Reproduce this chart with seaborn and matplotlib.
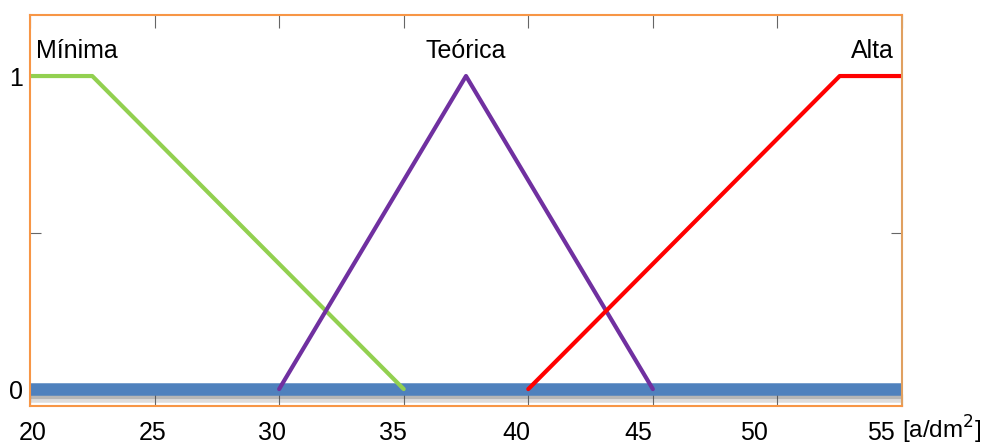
import numpy as np
import pandas as pd
import matplotlib
matplotlib.use("Agg")
import matplotlib.pyplot as plt
import matplotlib.patheffects as pe
import matplotlib.transforms as mtransforms
import seaborn as sns

# membership functions (x in a/dm2, y = membership degree)
minima_x = [20, 22.5, 35]
minima_y = [1, 1, 0]
teorica_x = [30, 37.5, 45]
teorica_y = [0, 1, 0]
alta_x = [40, 52.5, 55]
alta_y = [0, 1, 1]
base_x = [20, 55]
base_y = [0, 0]

labels = ['Mínima', 'Teórica', 'Alta']
label_x = [21.9, 37.5, 53.8]
label_y = [1.08, 1.08, 1.08]

x_ticks = [20, 25, 30, 35, 40, 45, 50, 55]
y_ticks = [0, 0.5, 1]
y_ticklabels = ['0', '', '1']

sns.set_style('white')
plt.rcParams['font.family'] = ['Liberation Sans', 'DejaVu Sans']

fig = plt.figure(figsize=(9.97, 4.46), dpi=100)
ax = fig.add_axes([0.0301, 0.0897, 0.8746, 0.8767])

sns.lineplot(x=base_x, y=base_y, ax=ax, color='#4F81BD', lw=9, solid_capstyle='butt',
             path_effects=[pe.SimpleLineShadow(offset=(0, -5), shadow_color='#666666', alpha=0.22, linewidth=9),
                           pe.SimpleLineShadow(offset=(0, -3), shadow_color='#444444', alpha=0.25, linewidth=8),
                           pe.Normal()])
sns.lineplot(x=minima_x, y=minima_y, ax=ax, color='#92D050', lw=3, sort=False)
sns.lineplot(x=teorica_x, y=teorica_y, ax=ax, color='#7030A0', lw=3, sort=False)
sns.lineplot(x=alta_x, y=alta_y, ax=ax, color='#FF0000', lw=3, sort=False)

for t, tx, ty in zip(labels, label_x, label_y):
    ax.text(tx, ty, t, ha='center', va='center', fontsize=18, color='black')

ax.set_xlim(20, 55)
ax.set_ylim(-0.054, 1.195)
ax.set_xticks(x_ticks)
ax.set_xticklabels([str(v) for v in x_ticks], fontsize=18)
ax.set_yticks(y_ticks)
ax.set_yticklabels(y_ticklabels, fontsize=18)
ax.tick_params(axis='x', direction='in', length=9, color='#666666', pad=11,
               top=True, bottom=True, labelcolor='black')
ax.tick_params(axis='y', direction='in', length=8, color='#666666', pad=5,
               left=True, right=True, labelcolor='black')
for s in ax.spines.values():
    s.set_color('#F79646')
    s.set_linewidth(1.5)
ax.spines['right'].set_color('#E0A060')

# tick labels in the original sit a bit left of their ticks
shift_px = [3, -2, -7, -11, -12, -15, -23, -21]
for lab, dx in zip(ax.get_xticklabels(), shift_px):
    lab.set_transform(lab.get_transform() + mtransforms.ScaledTranslation(dx / 100, 0, fig.dpi_scale_trans))

fig.text(0.945, 0.036, '[a/dm$^2$]', ha='center', va='center', fontsize=17.5, color='black')

fig.savefig('out.png', dpi=100)
